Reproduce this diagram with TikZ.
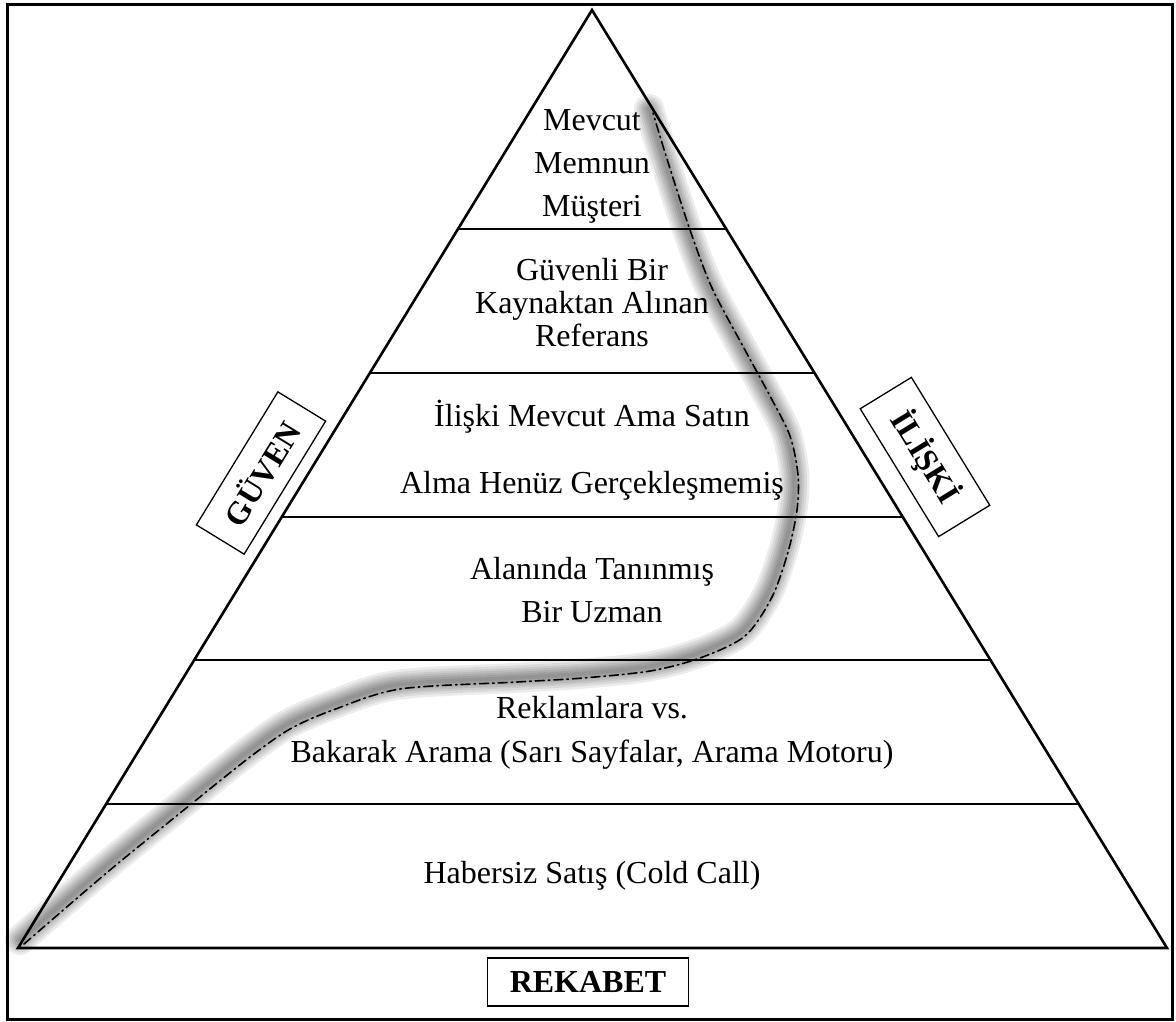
\documentclass[tikz,border=0pt]{standalone}
\usepackage{fontspec}
\setmainfont{Liberation Serif}
\usetikzlibrary{calc}
\begin{document}
\begin{tikzpicture}[x=1pt,y=-1pt,
  lbl/.style={align=center,inner sep=0pt},
  tagbox/.style={draw,line width=1.3pt,inner sep=0pt,
    font=\fontsize{32}{38}\selectfont\bfseries},
  edgeline/.style={line width=2.6pt,line join=miter},
  trail/.style={line width=1.6pt,line cap=round,
    dash pattern=on 9pt off 4pt on 1.6pt off 4pt},
  glow/.style={line width=#1,black,opacity=0.075,line cap=round,line join=round}]
\useasboundingbox (0,0) rectangle (1176,1021);

% outer frame
\draw[line width=3pt] (7,4) rectangle (1172,1019);

% pyramid
\coordinate (A)  at (592,10);
\coordinate (BL) at (18,948);
\coordinate (BR) at (1167,948);
\draw[edgeline] (A) -- (BL) -- (BR) -- cycle;
\foreach \t in {0.2335,0.3870,0.5405,0.6930,0.8465}
  \draw[edgeline] ($(A)!\t!(BL)$) -- ($(A)!\t!(BR)$);

% layer texts
\node[lbl,font=\fontsize{32}{43}\selectfont] (l1) at (592,166) {Mevcut\\Memnun\\Müşteri};
\node[lbl,font=\fontsize{32}{33}\selectfont] (l2) at (592,303) {Güvenli Bir\\Kaynaktan Alınan\\Referans};
\node[lbl,font=\fontsize{32}{67}\selectfont] (l3) at (592,450) {İlişki Mevcut Ama Satın\\Alma Henüz Gerçekleşmemiş};
\node[lbl,font=\fontsize{32}{43}\selectfont] (l4) at (592,590) {Alanında Tanınmış\\Bir Uzman};
\node[lbl,font=\fontsize{32}{44}\selectfont] (l5) at (592,733) {Reklamlara vs.\\Bakarak Arama (Sarı Sayfalar, Arama Motoru)};
\node[lbl,font=\fontsize{32}{38}\selectfont] (l6) at (592,876) {Habersiz Satış (Cold Call)};

% side and bottom tags
\node[tagbox,rotate=58.5,minimum width=156pt,minimum height=56pt] (guven) at (261,473) {GÜVEN};
\node[tagbox,rotate=-58.5,minimum width=150pt,minimum height=60pt] (iliski) at (925,457) {İLİŞKİ};
\node[tagbox,line width=1.5pt,minimum width=201pt,minimum height=48pt] (rekabet) at (588,982) {REKABET};

% trust path
\coordinate (c1) at (24,944);
\coordinate (c2) at (110,870);
\coordinate (c3) at (190,805);
\coordinate (c4) at (250,757);
\coordinate (c5) at (290,729);
\coordinate (c6) at (333,710);
\coordinate (c7) at (400,689);
\coordinate (c8) at (517,682);
\coordinate (c9) at (583,678);
\coordinate (c10) at (650,671);
\coordinate (c11) at (700,658);
\coordinate (c12) at (745,636);
\coordinate (c13) at (772,597);
\coordinate (c14) at (788,552);
\coordinate (c15) at (797,510);
\coordinate (c16) at (798,475);
\coordinate (c17) at (790,436);
\coordinate (c18) at (770,396);
\coordinate (c19) at (745,350);
\coordinate (c20) at (712,288);
\coordinate (c21) at (690,230);
\coordinate (c22) at (667,159);
\coordinate (c23) at (653,113);

% soft shadow under the path
\begin{scope}[transform canvas={shift={(-4pt,4pt)}}]
  \foreach \w in {30pt,25pt,20pt,16pt,12pt,8pt,4pt}
    \draw[glow=\w] plot[smooth] coordinates {(c1) (c2) (c3) (c4) (c5) (c6) (c7) (c8) (c9) (c10) (c11) (c12) (c13) (c14) (c15) (c16) (c17) (c18) (c19) (c20) (c21) (c22) (c23)};
\end{scope}
\draw[trail] plot[smooth] coordinates {(c1) (c2) (c3) (c4) (c5) (c6) (c7) (c8) (c9) (c10) (c11) (c12) (c13) (c14) (c15) (c16) (c17) (c18) (c19) (c20) (c21) (c22) (c23)};

\end{tikzpicture}
\end{document}
